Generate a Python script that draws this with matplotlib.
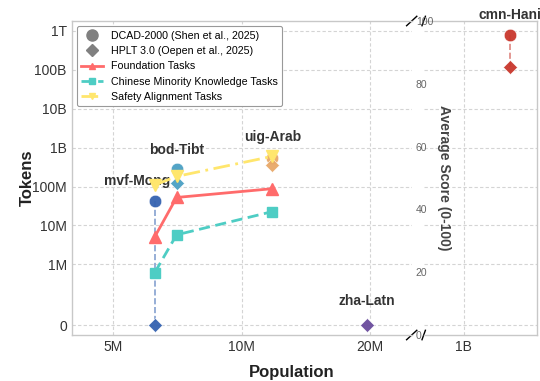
import numpy as np
import matplotlib
matplotlib.use("Agg")
import matplotlib.pyplot as plt
from matplotlib.lines import Line2D
from matplotlib.ticker import NullLocator

plt.rcParams["font.family"] = ["Liberation Sans", "DejaVu Sans"]

# languages, speaker population and corpus sizes
languages = ["mvf-Mong", "bod-Tibt", "uig-Arab", "zha-Latn", "cmn-Hani"]
population = [6.26e6, 7.04e6, 11.8e6, 19.6e6, 1.29e9]
dcad_tokens = [4.3e7, 2.8e8, 5.4e8, np.nan, 7.8e11]
hplt_tokens = [0, 1.2e8, 3.6e8, 0, 1.17e11]
lang_colors = ["#3462b0", "#4a9fc3", "#e8a868", "#6a4c9c", "#c9372c"]

# average benchmark scores for the minority languages
score_langs = ["mvf-Mong", "bod-Tibt", "uig-Arab"]
foundation = [31.3, 43.8, 46.6]
minority_knowledge = [19.9, 31.9, 39.3]
safety_alignment = [47.8, 50.5, 56.9]

label_offsets = {"mvf-Mong": (-13, 14), "bod-Tibt": (0, 14), "uig-Arab": (0, 15),
                 "zha-Latn": (0, 17), "cmn-Hani": (0, 14)}

fig = plt.figure(figsize=(5.4, 3.81), dpi=100)
W, H = 540, 381
bot, top = 335, 21
ax1 = fig.add_axes([71.7 / W, (H - bot) / H, (411.7 - 71.7) / W, (bot - top) / H])
ax2 = fig.add_axes([423.7 / W, (H - bot) / H, (536.7 - 423.7) / W, (bot - top) / H], sharey=ax1)

grid_kw = dict(color="#d4d4d4", linestyle=(0, (3, 2)), linewidth=0.8)
for ax in (ax1, ax2):
    ax.set_facecolor("white")
    ax.set_xscale("log")
    ax.grid(True, **grid_kw)
    ax.set_axisbelow(True)
    for s in ax.spines.values():
        s.set_color("#c8c8c8")
        s.set_linewidth(1.0)
    ax.tick_params(length=0, labelsize=10, colors="#333333")
    ax.xaxis.set_minor_locator(NullLocator())

ax1.set_yscale("symlog", linthresh=1e5, linscale=0.5)
ax1.set_ylim(-4.6e4, 1.77e12)
ax1.set_yticks([0, 1e6, 1e7, 1e8, 1e9, 1e10, 1e11, 1e12])
ax1.set_yticklabels(["0", "1M", "10M", "100M", "1B", "10B", "100B", "1T"])
ax1.yaxis.set_minor_locator(NullLocator())
ax1.set_xlim(4e6, 25e6)
ax1.set_xticks([5e6, 1e7, 2e7])
ax1.set_xticklabels(["5M", "10M", "20M"])
ax1.xaxis.set_minor_locator(NullLocator())
ax1.spines["right"].set_visible(False)
ax1.set_ylabel("Tokens", fontsize=12, fontweight="bold", color="#222222", labelpad=-2)

ax2.set_xlim(8e8, 1.5e9)
ax2.set_xticks([1e9])
ax2.set_xticklabels(["1B"])
ax2.xaxis.set_minor_locator(NullLocator())
ax2.spines["left"].set_visible(False)
ax2.tick_params(axis="y", labelleft=False)

# corpus sizes: circles for DCAD-2000, diamonds for HPLT 3.0
for lang, pop, d, h, c in zip(languages, population, dcad_tokens, hplt_tokens, lang_colors):
    ax = ax2 if pop > 1e8 else ax1
    if not np.isnan(d):
        ax.plot([pop, pop], [d, h], color=c, linestyle="--", linewidth=1.2, alpha=0.6, zorder=2)
        ax.plot(pop, d, marker="o", ms=9, color=c, mec="white", mew=0.4, alpha=0.95, zorder=3)
    ax.plot(pop, h, marker="D", ms=7.5, color=c, mec="white", mew=0.4, alpha=0.95, zorder=3)
    top_val = h if np.isnan(d) else max(d, h)
    dx, dy = label_offsets[lang]
    ax.annotate(lang, (pop, top_val), xytext=(dx, dy), textcoords="offset points",
                ha="center", va="center", fontsize=10, fontweight="bold",
                color="#333333", annotation_clip=False, zorder=5)

# task scores on a secondary axis
ax3 = ax1.twinx()
ax3.set_ylim(0, 100)
ax3.set_yticks([0, 20, 40, 60, 80, 100])
ax3.grid(False)
for s in ax3.spines.values():
    s.set_visible(False)
ax3.tick_params(length=0, labelsize=7.5, colors="#666666", pad=3)
ax3.set_ylabel("Average Score (0-100)", fontsize=10, fontweight="bold", color="#444444",
               rotation=270, labelpad=13)

tasks = [
    ("Foundation Tasks", foundation, "#ff6b6b", "^", "-"),
    ("Chinese Minority Knowledge Tasks", minority_knowledge, "#4ecdc4", "s", (0, (4, 2))),
    ("Safety Alignment Tasks", safety_alignment, "#ffe66d", "v", (0, (6, 2, 1, 2))),
]
score_pop = [population[languages.index(l)] for l in score_langs]
task_handles = []
for name, vals, col, mk, ls in tasks:
    ax3.plot(score_pop, vals, color=col, marker=mk, ms=7 if mk == "s" else 8,
             linewidth=2, linestyle=ls)
    task_handles.append(Line2D([], [], color=col, marker=mk, ms=5, linewidth=2,
                               linestyle=ls, label=name))

handles = [
    Line2D([], [], marker="o", color="gray", linestyle="none", ms=8,
           label="DCAD-2000 (Shen et al., 2025)"),
    Line2D([], [], marker="D", color="gray", linestyle="none", ms=6.5,
           label="HPLT 3.0 (Oepen et al., 2025)"),
] + task_handles
leg = ax3.legend(handles=handles, loc="upper left", fontsize=7.7, frameon=True,
                 framealpha=1, edgecolor="#999999", fancybox=True)
leg.get_frame().set_linewidth(0.8)

# break marks between the two x ranges
d = 0.015
kw = dict(color="k", linewidth=1, clip_on=False)
ax1.plot((1 - d, 1 + d), (1 - d, 1 + d), transform=ax1.transAxes, **kw)
ax1.plot((1 - d, 1 + d), (-d, d), transform=ax1.transAxes, **kw)
ax2.plot((-d, d), (1 - d, 1 + d), transform=ax2.transAxes, **kw)
ax2.plot((-d, d), (-d, d), transform=ax2.transAxes, **kw)

fig.text(292 / W, 1 - 373 / H, "Population", ha="center", va="center",
         fontsize=12, fontweight="bold", color="#222222")

fig.savefig("out.png", dpi=100)
